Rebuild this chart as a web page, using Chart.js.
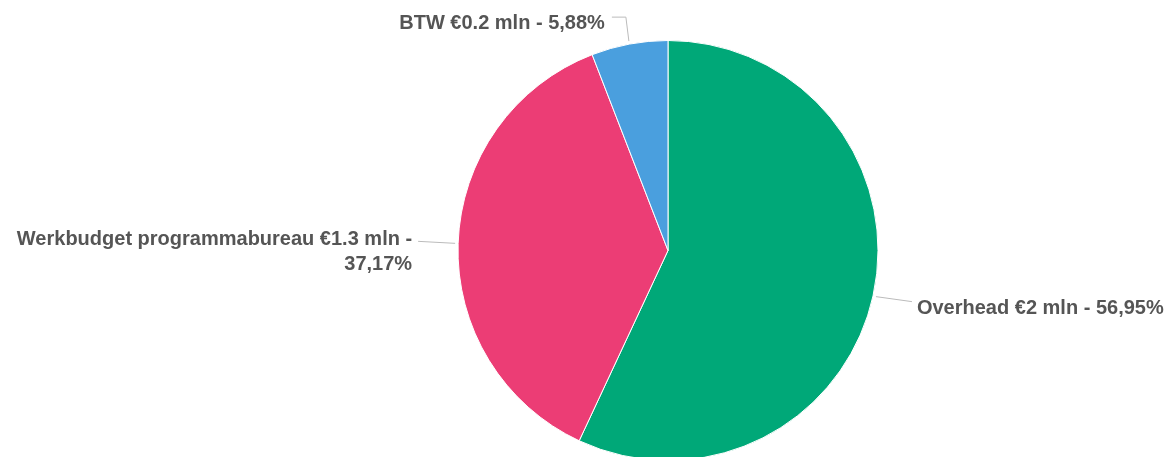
<!DOCTYPE html>
<html>
<head>
<meta charset="utf-8">
<script src="https://cdn.jsdelivr.net/npm/chart.js@4"></script>
<style>
  html, body { margin: 0; padding: 0; background: #fff; }
  #wrap { width: 1170px; height: 457px; }
</style>
</head>
<body>
<div id="wrap"><canvas id="pie"></canvas></div>
<script>
const categories = ['Overhead', 'Werkbudget programmabureau', 'BTW'];
const amounts = ['€2 mln', '€1.3 mln', '€0.2 mln'];
const shares = [56.95, 37.17, 5.88];
const shareText = ['56,95%', '37,17%', '5,88%'];
const colors = ['#00a878', '#ec3d75', '#4a9fde'];

const calloutPlugin = {
    id: 'callouts',
    afterDatasetsDraw(chart) {
        const ctx = chart.ctx;
        const arcs = chart.getDatasetMeta(0).data;
        ctx.save();
        ctx.font = 'bold 20px "Liberation Sans", Arial, sans-serif';
        ctx.fillStyle = '#555555';
        ctx.strokeStyle = '#bbbbbb';
        ctx.lineWidth = 1;
        ctx.textBaseline = 'middle';
        arcs.forEach((arc, i) => {
            const mid = (arc.startAngle + arc.endAngle) / 2;
            const r = arc.outerRadius + 3;
            const ex = arc.x + Math.cos(mid) * r;
            const ey = arc.y + Math.sin(mid) * r;
            const text = categories[i] + ' ' + amounts[i] + ' - ';
            ctx.beginPath();
            if (i === 0) {
                ctx.moveTo(ex, ey);
                ctx.lineTo(ex + 36, ey + 5);
                ctx.stroke();
                ctx.textAlign = 'left';
                ctx.fillText(text + shareText[i], ex + 41, ey + 12);
            } else if (i === 1) {
                ctx.moveTo(ex, ey);
                ctx.lineTo(ex - 37, ey - 2);
                ctx.stroke();
                ctx.textAlign = 'right';
                ctx.fillText(text.trim(), ex - 43, ey - 4);
                ctx.fillText(shareText[i], ex - 43, ey + 21);
            } else {
                ctx.moveTo(ex, ey);
                ctx.lineTo(ex - 3, ey - 24);
                ctx.lineTo(ex - 17, ey - 24);
                ctx.stroke();
                ctx.textAlign = 'right';
                ctx.fillText(text + shareText[i], ex - 24, ey - 18);
            }
        });
        ctx.restore();
    }
};

new Chart(document.getElementById('pie'), {
    type: 'pie',
    data: {
        labels: categories,
        datasets: [{
            data: shares,
            backgroundColor: colors,
            borderColor: '#ffffff',
            borderWidth: 1,
            radius: 210
        }]
    },
    options: {
        responsive: true,
        maintainAspectRatio: false,
        animation: false,
        layout: { padding: { top: 44, bottom: -7, left: 300, right: 134 } },
        plugins: {
            legend: { display: false },
            tooltip: { enabled: false }
        }
    },
    plugins: [calloutPlugin]
});
</script>
</body>
</html>
